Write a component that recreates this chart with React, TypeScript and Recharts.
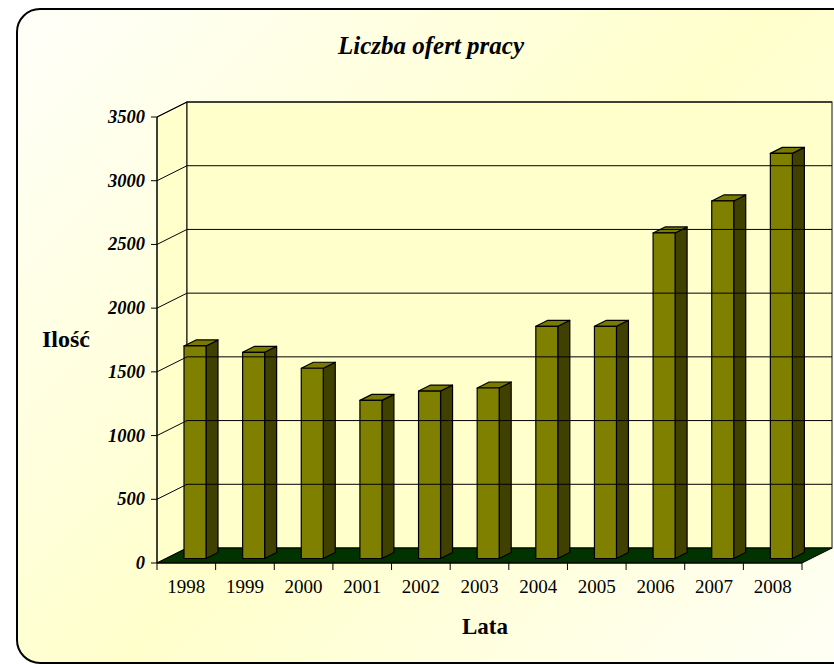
import React from 'react'
import { BarChart, Bar, XAxis, YAxis, ReferenceArea, ReferenceLine } from 'recharts'

const years = ['1998', '1999', '2000', '2001', '2002', '2003', '2004', '2005', '2006', '2007', '2008']
const offers = [1668, 1618, 1493, 1241, 1314, 1338, 1822, 1822, 2555, 2806, 3179]
const yTicks = [0, 500, 1000, 1500, 2000, 2500, 3000, 3500]

const data = years.map((year, i) => ({ year, value: offers[i] }))

// depth of the 3d box and of each bar
const DX = 30
const DY = 15
const BX = 12
const BY = 6
const FONT = '"Liberation Serif", "Times New Roman", serif'

const Walls = (props: any) => {
  const { x, y, width, height } = props
  const b = y + height
  const r = x + width
  return (
    <g>
      <polygon points={`${x},${y} ${x + DX},${y - DY} ${x + DX},${b - DY} ${x},${b}`} fill="#ffffcc" stroke="#000" strokeWidth={1} />
      <rect x={x + DX} y={y - DY} width={width} height={height} fill="#ffffcc" stroke="#000" strokeWidth={1} />
      <line x1={r + DX} y1={y - DY} x2={r + DX} y2={b - DY} stroke="#888" strokeWidth={1.5} />
      <polygon points={`${x},${b} ${x + DX},${b - DY} ${r + DX},${b - DY} ${r},${b}`} fill="#003300" stroke="#000" strokeWidth={1} />
    </g>
  )
}

const GridLine = (props: any) => {
  const { x1, y1, x2 } = props
  return (
    <g>
      <line x1={x1} y1={y1} x2={x1 + DX} y2={y1 - DY} stroke="#000" strokeWidth={1} />
      <line x1={x1 + DX} y1={y1 - DY} x2={x2 + DX} y2={y1 - DY} stroke="#000" strokeWidth={1} />
    </g>
  )
}

const Bar3D = (props: any) => {
  const { x, y, width, height } = props
  if (height == null || height <= 0) return null
  const fx = x + (DX - BX) / 2
  const fy = y - (DY - BY) / 2
  const w = width
  const h = height
  return (
    <g stroke="#000" strokeWidth={1.2} strokeLinejoin="round">
      <polygon points={`${fx + w},${fy} ${fx + w + BX},${fy - BY} ${fx + w + BX},${fy + h - BY} ${fx + w},${fy + h}`} fill="#404000" />
      <polygon points={`${fx},${fy} ${fx + BX},${fy - BY} ${fx + w + BX},${fy - BY} ${fx + w},${fy}`} fill="#7a7a00" />
      <rect x={fx} y={fy} width={w} height={h} fill="#808000" />
    </g>
  )
}

const YTick = (props: any) => {
  const { x, y, payload } = props
  return (
    <text x={x} y={y} dy={6} textAnchor="end" fontFamily={FONT} fontSize={18.5} fontWeight="bold" fontStyle="italic" fill="#000">
      {payload.value}
    </text>
  )
}

const XTick = (props: any) => {
  const { x, y, payload, index, visibleTicksCount } = props
  const half = payload.offset || 29.3
  return (
    <g>
      <line x1={x - half} y1={y - 8} x2={x - half} y2={y - 1} stroke="#000" strokeWidth={1} />
      {index === visibleTicksCount - 1 && (
        <line x1={x + half} y1={y - 8} x2={x + half} y2={y - 1} stroke="#000" strokeWidth={1} />
      )}
      <text x={x} y={y} dy={22} textAnchor="middle" fontFamily={FONT} fontSize={19} fill="#000">
        {payload.value}
      </text>
    </g>
  )
}

export default function App() {
  return (
    <div style={{ position: 'relative', width: 834, height: 664, overflow: 'hidden' }}>
      <style>{'body{margin:0}'}</style>
      <div
        style={{
          position: 'absolute',
          left: 16,
          top: 8,
          width: 860,
          height: 652,
          border: '2px solid #000',
          borderRadius: 24,
          background: 'linear-gradient(135deg, #fffffa 0%, #ffffcc 50%, #fffff8 100%)',
        }}
      />
      <div
        style={{
          position: 'absolute',
          left: 0,
          width: 862,
          top: 32,
          textAlign: 'center',
          fontFamily: FONT,
          fontSize: 25,
          fontWeight: 'bold',
          fontStyle: 'italic',
        }}
      >
        Liczba ofert pracy
      </div>
      <div style={{ position: 'absolute', left: 42, top: 326, fontFamily: FONT, fontSize: 24, fontWeight: 'bold' }}>Ilość</div>
      <div style={{ position: 'absolute', left: 0, width: 970, top: 614, textAlign: 'center', fontFamily: FONT, fontSize: 23, fontWeight: 'bold' }}>
        Lata
      </div>
      <div style={{ position: 'absolute', left: 0, top: 0 }}>
        <BarChart width={834} height={664} data={data} margin={{ top: 117, right: 32, bottom: 71, left: 97 }} barSize={22}>
          <XAxis dataKey="year" axisLine={{ stroke: '#000' }} tickLine={false} tick={<XTick />} height={30} interval={0} />
          <YAxis
            domain={[0, 3500]}
            ticks={yTicks}
            width={60}
            axisLine={{ stroke: '#000' }}
            tickLine={{ stroke: '#000' }}
            tickSize={6}
            tickMargin={6}
            tick={<YTick />}
          />
          <ReferenceArea y1={0} y2={3500} shape={<Walls />} ifOverflow="visible" />
          {yTicks.slice(1).map((v) => (
            <ReferenceLine key={v} y={v} shape={<GridLine />} ifOverflow="visible" />
          ))}
          <Bar dataKey="value" shape={<Bar3D />} isAnimationActive={false} />
        </BarChart>
      </div>
    </div>
  )
}
